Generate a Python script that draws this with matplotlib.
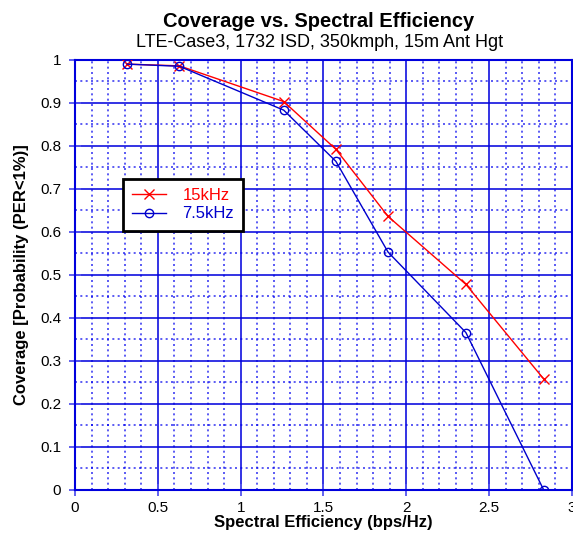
import numpy as np
import matplotlib.pyplot as plt
from matplotlib.ticker import MultipleLocator

plt.rcParams['font.family'] = ['Liberation Sans', 'DejaVu Sans']

# spectral efficiency (bps/Hz)
se = [0.315, 0.63, 1.26, 1.575, 1.89, 2.36, 2.83]
cov_15k = [0.990, 0.986, 0.903, 0.792, 0.636, 0.478, 0.258]
cov_7k5 = [0.990, 0.985, 0.883, 0.764, 0.553, 0.366, 0.0]

fig = plt.figure(figsize=(5.73, 5.39), dpi=100)
ax = fig.add_axes([0.131, 0.091, 0.867, 0.798])

ax.plot(se, cov_15k, color='red', marker='x', ms=7, mew=1.0, lw=1.0, label='15kHz', zorder=3)
ax.plot(se, cov_7k5, color='#0000cc', marker='o', ms=6, mfc='none', mew=1.0, lw=1.0,
        label='7.5kHz', zorder=3)

ax.set_xlim(0, 3)
ax.set_ylim(0, 1)
ax.xaxis.set_minor_locator(MultipleLocator(0.1))
ax.yaxis.set_minor_locator(MultipleLocator(0.05))
ax.set_xticks([0, 0.5, 1, 1.5, 2, 2.5, 3])
ax.set_xticklabels(['0', '0.5', '1', '1.5', '2', '2.5', '3'])
ax.set_yticks(np.round(np.arange(0, 1.01, 0.1), 1))
ax.set_yticklabels(['0', '0.1', '0.2', '0.3', '0.4', '0.5', '0.6', '0.7', '0.8', '0.9', '1'])

ax.grid(which='major', color='#0000dd', lw=1.4, ls='-', alpha=0.8)
ax.grid(which='minor', color='#0000ee', lw=1.2, ls=(0, (1.2, 2.0)), alpha=0.75)
ax.set_axisbelow(True)
for s in ax.spines.values():
    s.set_color('#0000dd')
    s.set_linewidth(1.5)
ax.tick_params(which='major', direction='inout', length=8, width=1.3, color='#5555ee',
               labelsize=11, pad=4)
ax.tick_params(axis='y', which='major', pad=6)
ax.tick_params(which='minor', length=0)

ax.set_xlabel('Spectral Efficiency (bps/Hz)', fontsize=12, fontweight='bold', labelpad=0)
ax.set_ylabel('Coverage [Probability (PER<1%)]', fontsize=12, fontweight='bold', labelpad=8)

fig.text(0.556, 0.961, 'Coverage vs. Spectral Efficiency', ha='center', va='center',
         fontsize=14.5, fontweight='bold')
fig.text(0.558, 0.921, 'LTE-Case3, 1732 ISD, 350kmph, 15m Ant Hgt', ha='center', va='center',
         fontsize=13)

leg = ax.legend(loc='upper left', bbox_to_anchor=(0.097, 0.723), fontsize=12,
                fancybox=False, framealpha=1, edgecolor='black', handlelength=2.0,
                borderpad=0.55, labelspacing=0.2, handletextpad=1.0, borderaxespad=0)
leg.get_frame().set_linewidth(2)
for t, c in zip(leg.get_texts(), ['red', '#0000cc']):
    t.set_color(c)

fig.savefig('out.png', dpi=100)
